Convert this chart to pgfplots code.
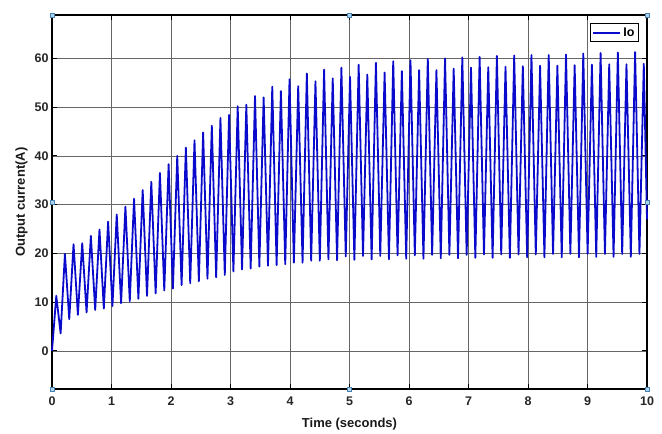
\documentclass[border=0pt]{standalone}
\usepackage{fontspec}
\setmainfont{Liberation Sans}
\usepackage{pgfplots}
\pgfplotsset{compat=1.18}
\usetikzlibrary{calc}
\definecolor{iocol}{RGB}{10,10,205}
\definecolor{hfill}{RGB}{175,210,235}
\definecolor{hdraw}{RGB}{70,130,180}
\pgfplotstableread{
t y
0 0
0.072 11.3
0.145 3.6
0.217 19.9
0.290 6.5
0.362 21.9
0.435 7.4
0.508 22.1
0.581 7.9
0.653 23.6
0.726 8.4
0.798 24.9
0.871 8.7
0.943 26.5
1.016 9.2
1.088 28.0
1.161 9.8
1.234 29.6
1.307 10.2
1.379 31.2
1.452 10.7
1.524 33.0
1.597 11.3
1.669 34.7
1.742 11.8
1.814 36.5
1.887 12.4
1.960 38.3
2.032 12.8
2.105 40.0
2.178 13.5
2.250 41.7
2.323 13.9
2.395 43.2
2.468 14.3
2.540 44.8
2.613 14.8
2.686 46.2
2.759 15.1
2.831 47.8
2.904 15.6
2.976 48.4
3.049 16.3
3.121 50.2
3.194 16.7
3.266 50.5
3.339 16.9
3.412 52.3
3.485 17.3
3.557 52.0
3.630 17.5
3.702 54.2
3.775 17.6
3.847 53.3
3.920 17.8
3.992 55.7
4.065 18.1
4.138 54.3
4.211 18.1
4.283 56.9
4.356 18.5
4.428 55.3
4.501 18.5
4.573 57.7
4.646 18.8
4.718 55.9
4.791 18.6
4.864 58.1
4.937 19.4
5.009 56.2
5.082 18.7
5.154 58.7
5.227 19.5
5.299 56.7
5.372 18.8
5.444 59.1
5.517 19.5
5.590 57.1
5.663 18.8
5.735 59.4
5.808 19.6
5.880 57.4
5.953 18.9
6.025 59.6
6.098 19.6
6.170 57.6
6.243 18.9
6.316 59.9
6.389 19.7
6.461 57.6
6.534 19.0
6.606 60.0
6.679 19.7
6.751 57.9
6.824 19.0
6.896 60.2
6.969 19.7
7.042 58.1
7.115 19.1
7.187 60.3
7.260 19.8
7.332 58.2
7.405 19.1
7.477 60.5
7.550 19.8
7.622 58.3
7.695 19.1
7.768 60.6
7.841 19.8
7.913 58.4
7.986 19.2
8.058 60.7
8.131 19.8
8.203 58.5
8.276 19.2
8.348 60.7
8.421 19.9
8.494 58.5
8.567 19.2
8.639 60.8
8.712 19.9
8.784 58.6
8.857 19.2
8.929 61.0
9.002 19.9
9.074 58.7
9.147 19.3
9.220 61.1
9.293 19.9
9.365 58.8
9.438 19.3
9.510 61.2
9.583 19.9
9.655 58.8
9.728 19.3
9.800 61.3
9.873 19.9
9.946 58.9
10.0 27
}\iodata
\begin{document}
\begin{tikzpicture}
\begin{axis}[
  width=595pt, height=374pt, scale only axis,
  xmin=0, xmax=10, ymin=-7.8, ymax=68.9,
  xtick={0,1,...,10}, ytick={0,10,...,60},
  grid=major, major grid style={black!60, line width=0.8pt},
  axis line style={black, line width=1.3pt},
  tick style={black, line width=1pt}, tick align=inside, tick pos=both,
  major tick length=5pt,
  /pgf/number format/assume math mode=true,
  ticklabel style={font=\bfseries\fontsize{12.5}{14}\selectfont, text=black!85},
  xticklabel style={yshift=-4pt},
  xlabel={Time (seconds)}, ylabel={Output current(A)},
  label style={font=\bfseries\fontsize{13}{15}\selectfont, text=black!90},
  xlabel style={yshift=-6pt},
  legend style={at={(1,1)}, anchor=north east, xshift=-8pt, yshift=-8pt,
    font=\bfseries\fontsize{12.5}{14}\selectfont, draw=black, line width=1.1pt,
    inner sep=2pt},
  clip=false,
]
\addplot[iocol, line width=1.8pt, line join=round,
  legend image code/.code={\draw[iocol, line width=2pt] (0pt,0pt) -- (27pt,0pt);}]
  table[x=t, y=y] {\iodata};
\addlegendentry{Io}
\addplot[only marks, mark=square*, mark size=1.8pt, mark options={fill=hfill, draw=hdraw, line width=0.5pt}, forget plot]
  coordinates {(0,68.9) (5,68.9) (10,68.9) (0,30.55) (10,30.55) (0,-7.8) (5,-7.8) (10,-7.8)};
\end{axis}
\path ($(current axis.south west)+(-52pt,-44pt)$) rectangle ($(current axis.north east)+(15pt,15pt)$);
\end{tikzpicture}
\end{document}
